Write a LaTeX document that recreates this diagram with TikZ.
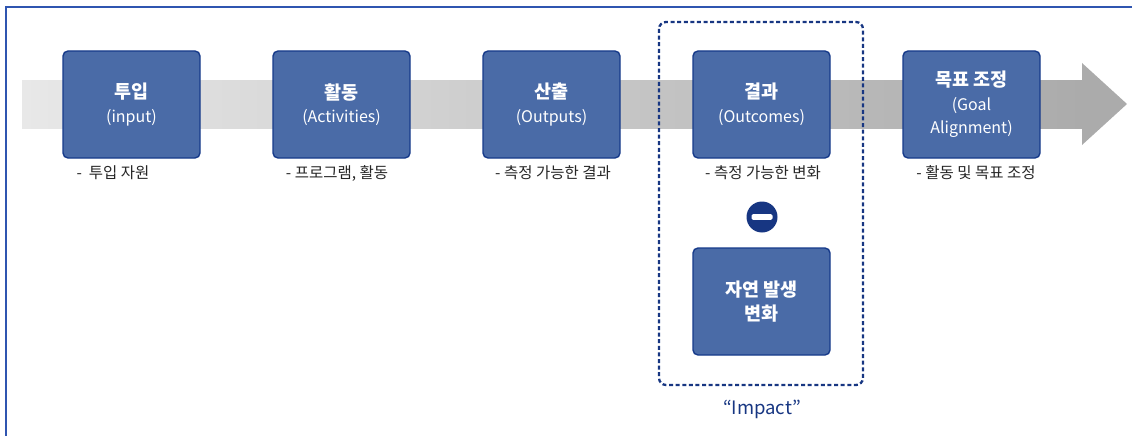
\documentclass[tikz,border=0pt]{standalone}
\usepackage{fontspec}
\setmainfont{Noto Sans CJK KR}
\usetikzlibrary{calc}
\definecolor{boxfill}{HTML}{4A6BA7}
\definecolor{boxline}{HTML}{163A8A}
\definecolor{navy}{HTML}{173682}
\definecolor{frameblue}{HTML}{2F55B0}
\definecolor{bandL}{HTML}{E8E8E8}
\definecolor{bandR}{HTML}{ABABAB}
\newcommand{\ttlfont}{\fontsize{18.5}{23.5}\selectfont\bfseries}
\tikzset{
  stage/.style={draw=boxline, line width=1.4pt, fill=boxfill, rounded corners=5pt,
    minimum width=137pt, minimum height=107pt, inner sep=0pt, text=white,
    align=center, font=\fontsize{16}{23.5}\selectfont},
  lbl/.style={font=\fontsize{15.5}{18}\selectfont, text=black!85},
}
\begin{document}
\begin{tikzpicture}[x=1pt,y=-1pt]
\useasboundingbox (0,0) rectangle (1132,436);
% frame
\draw[frameblue, line width=2pt] (5.5,437) -- (5.5,7.5) -- (1133,7.5);
% band arrow
\shade[left color=bandL, right color=bandR] (22,80) rectangle (1083,128);
\fill[bandR] (1082,63) -- (1127,104) -- (1082,145) -- cycle;
% dashed impact box
\draw[navy, line width=2.3pt, dash pattern=on 4pt off 2.6pt, rounded corners=7pt] (659,22) rectangle (863,385);
% stages
\node[stage] (s1) at (131.5,104.5) {{\ttlfont 투입}\\(input)};
\node[stage] (s2) at (341.5,104.5) {{\ttlfont 활동}\\(Activities)};
\node[stage] (s3) at (551.5,104.5) {{\ttlfont 산출}\\(Outputs)};
\node[stage] (s4) at (761.5,104.5) {{\ttlfont 결과}\\(Outcomes)};
\node[stage] (s5) at (971.5,104.5) {{\ttlfont 목표 조정}\\(Goal\\Alignment)};
\node[stage] (s6) at (761.5,301.5) {{\ttlfont 자연 발생}\\{\ttlfont 변화}};
% labels
\node[lbl] (l1) at (113,173) {-\ \ 투입 자원};
\node[lbl] (l2) at (337,173) {- 프로그램, 활동};
\node[lbl] (l3) at (553,173) {- 측정 가능한 결과};
\node[lbl] (l4) at (763,173) {- 측정 가능한 변화};
\node[lbl] (l5) at (976,173) {- 활동 및 목표 조정};
% minus
\node[circle, fill=navy, minimum size=31pt, inner sep=0pt] (minus) at (762,217) {};
\fill[white, rounded corners=1.5pt] ($(minus.center)+(-10.5,-2.8)$) rectangle ($(minus.center)+(10.5,2.8)$);
% impact
\node[font=\fontsize{18.5}{22}\selectfont, text=navy] (impact) at (762,409) {“Impact”};
\end{tikzpicture}
\end{document}
